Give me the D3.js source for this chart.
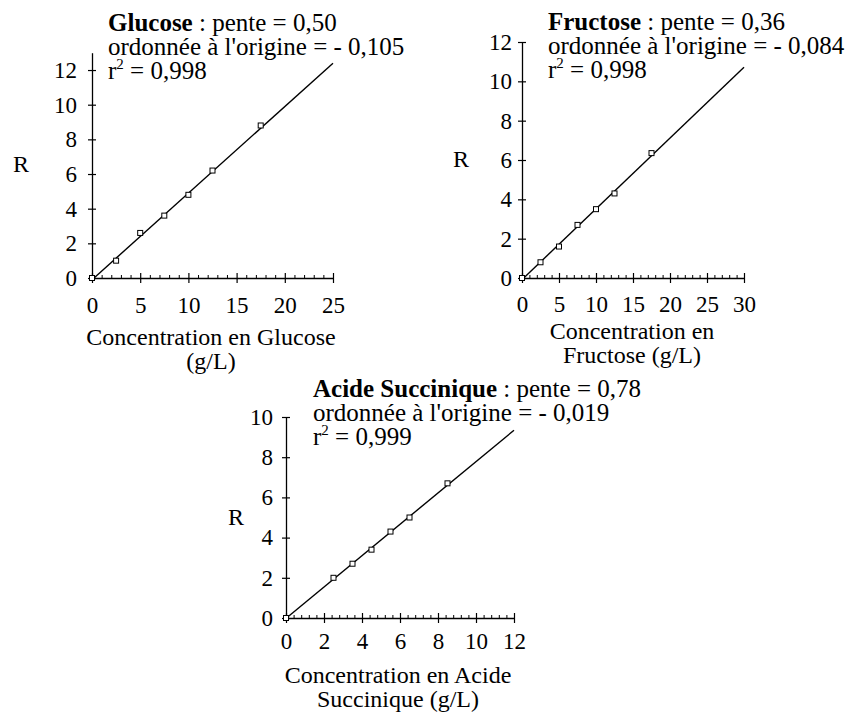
<!DOCTYPE html>
<html>
<head>
<meta charset="utf-8">
<script src="https://cdn.jsdelivr.net/npm/d3@7"></script>
<style>
  html, body { margin: 0; padding: 0; background: #fff; }
  svg { display: block; }
  text { font-family: "Liberation Serif", "Times New Roman", serif; fill: #000; }
</style>
</head>
<body>
<svg id="chart" width="860" height="715"></svg>
<script>
// ---------------- DATA ----------------
const panelNames = ["Glucose", "Fructose", "Acide Succinique"];

const glucoseConc = [0, 2.5, 5, 7.5, 10, 12.5, 17.5];
const glucoseR    = [0, 1.0, 2.6, 3.6, 4.8, 6.2, 8.8];

const fructoseConc = [0, 2.5, 5, 7.5, 10, 12.5, 17.5];
const fructoseR    = [0, 0.8, 1.6, 2.7, 3.5, 4.3, 6.35];

const succinicConc = [0, 2.5, 3.5, 4.5, 5.5, 6.5, 8.5];
const succinicR    = [0, 2.0, 2.7, 3.4, 4.3, 5.0, 6.7];

const slopes      = [0.50, 0.36, 0.78];
const intercepts  = [-0.105, -0.084, -0.019];
const slopeLabels = ["0,50", "0,36", "0,78"];
const interceptLabels = ["- 0,105", "- 0,084", "- 0,019"];
const r2Labels    = ["0,998", "0,998", "0,999"];

const glucoseXTicks  = [0, 5, 10, 15, 20, 25];
const glucoseYTicks  = [0, 2, 4, 6, 8, 10, 12];
const fructoseXTicks = [0, 5, 10, 15, 20, 25, 30];
const fructoseYTicks = [0, 2, 4, 6, 8, 10, 12];
const succinicXTicks = [0, 2, 4, 6, 8, 10, 12];
const succinicYTicks = [0, 2, 4, 6, 8, 10];

const xTitles = [
  ["Concentration en Glucose", "(g/L)"],
  ["Concentration en", "Fructose (g/L)"],
  ["Concentration en Acide", "Succinique (g/L)"]
];
const yTitle = "R";

// ---------------- LAYOUT ----------------
const layout = [
  { x0: 92,  x1: 333, y0: 278, y1: 52.7, xMax: 25, yMax: 13, xPad: 14, yPad: 11,
    titleX: 108, titleY: 31, rX: 13, rY: 172, xtX: 211, xtY: 345 },
  { x0: 522, x1: 744, y0: 278, y1: 42,  xMax: 30, yMax: 12, xPad: 13, yPad: 6,
    titleX: 548, titleY: 30, rX: 453, rY: 167, xtX: 632, xtY: 339 },
  { x0: 286, x1: 514, y0: 618, y1: 417, xMax: 12, yMax: 10, xPad: 10, yPad: 9,
    titleX: 313, titleY: 397, rX: 228, rY: 525, xtX: 398, xtY: 683 }
];

const panels = [
  { xs: glucoseConc,  ys: glucoseR,  xt: glucoseXTicks,  yt: glucoseYTicks },
  { xs: fructoseConc, ys: fructoseR, xt: fructoseXTicks, yt: fructoseYTicks },
  { xs: succinicConc, ys: succinicR, xt: succinicXTicks, yt: succinicYTicks }
];

const tickFont = 23, labelFont = 24, noteFont = 25, noteLead = 24;
const svg = d3.select("#chart");

panels.forEach((p, i) => {
  const L = layout[i];
  const x = d3.scaleLinear().domain([0, L.xMax]).range([L.x0, L.x1]);
  const y = d3.scaleLinear().domain([0, L.yMax]).range([L.y0, L.y1]);
  const g = svg.append("g");

  // minor x ticks (4 between majors)
  const step = p.xt[1] - p.xt[0];
  const minor = [];
  for (let k = 0; k < p.xt.length - 1; k++) {
    for (let m = 1; m <= 4; m++) minor.push(p.xt[k] + step * m / 5);
  }
  g.append("g")
    .attr("transform", `translate(0,${L.y0})`)
    .call(d3.axisBottom(x).tickValues(minor).tickSize(-3).tickSizeOuter(0).tickFormat(""))
    .call(a => a.select(".domain").remove())
    .call(a => a.selectAll("line").attr("stroke", "#000").attr("stroke-width", 1));

  // major x axis
  const xa = g.append("g")
    .attr("transform", `translate(0,${L.y0})`)
    .call(d3.axisBottom(x).tickValues(p.xt).tickSize(5).tickSizeOuter(0).tickPadding(L.xPad));
  xa.select(".domain").attr("stroke", "#000").attr("stroke-width", 1.3);
  xa.selectAll(".tick line").attr("y1", -5).attr("y2", 5).attr("stroke", "#000").attr("stroke-width", 1.2);
  xa.selectAll(".tick text").attr("font-size", tickFont).attr("font-family", "Liberation Serif, serif").attr("fill", "#000");

  // y axis
  const ya = g.append("g")
    .attr("transform", `translate(${L.x0},0)`)
    .call(d3.axisLeft(y).tickValues(p.yt).tickSize(4).tickSizeOuter(0).tickPadding(L.yPad));
  ya.select(".domain").attr("stroke", "#000").attr("stroke-width", 1.3);
  ya.selectAll(".tick line").attr("x1", -4).attr("x2", 4).attr("stroke", "#000").attr("stroke-width", 1.2);
  ya.selectAll(".tick text").attr("font-size", tickFont).attr("font-family", "Liberation Serif, serif").attr("fill", "#000");

  // fit line
  const xs0 = Math.max(0, -intercepts[i] / slopes[i]);
  const lineData = [xs0, L.xMax].map(v => [v, slopes[i] * v + intercepts[i]]);
  g.append("path")
    .attr("d", d3.line().x(d => x(d[0])).y(d => y(d[1]))(lineData))
    .attr("fill", "none").attr("stroke", "#000").attr("stroke-width", 1.4);

  // points
  const pts = p.xs.map((v, k) => [v, p.ys[k]]);
  g.selectAll("rect.pt").data(pts).enter().append("rect")
    .attr("class", "pt")
    .attr("x", d => x(d[0]) - 2.5).attr("y", d => y(d[1]) - 2.5)
    .attr("width", 5).attr("height", 5)
    .attr("fill", "#fff").attr("stroke", "#000").attr("stroke-width", 1);

  // R label
  g.append("text").attr("x", L.rX).attr("y", L.rY)
    .attr("font-size", labelFont).text(yTitle);

  // x title
  xTitles[i].forEach((t, k) => {
    g.append("text").attr("x", L.xtX).attr("y", L.xtY + k * 24)
      .attr("text-anchor", "middle").attr("font-size", labelFont).text(t);
  });

  // annotation
  const t1 = g.append("text").attr("x", L.titleX).attr("y", L.titleY).attr("font-size", noteFont);
  t1.append("tspan").attr("font-weight", "bold").text(panelNames[i]);
  t1.append("tspan").text(" : pente = " + slopeLabels[i]);
  g.append("text").attr("x", L.titleX).attr("y", L.titleY + noteLead).attr("font-size", noteFont)
    .text("ordonnée à l'origine = " + interceptLabels[i]);
  const t3 = g.append("text").attr("x", L.titleX).attr("y", L.titleY + 2 * noteLead).attr("font-size", noteFont);
  t3.append("tspan").text("r");
  t3.append("tspan").attr("font-size", 15).attr("dy", -10).text("2");
  t3.append("tspan").attr("dy", 10).text(" = " + r2Labels[i]);
});
</script>
</body>
</html>
